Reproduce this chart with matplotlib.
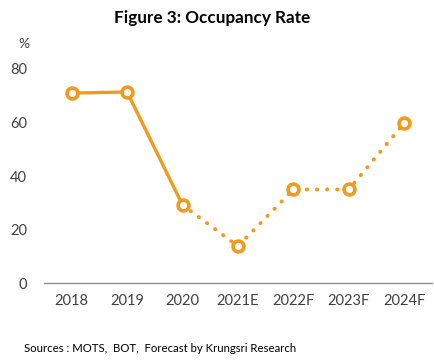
import matplotlib.pyplot as plt

plt.rcParams['font.family'] = ['Lato', 'DejaVu Sans']

years = ["2018", "2019", "2020", "2021E", "2022F", "2023F", "2024F"]
occupancy = [71.0, 71.4, 29.2, 13.8, 35.0, 35.0, 59.8]
last_actual = 2  # index of 2020, forecast line starts here

orange = "#F39A1B"
grey_text = "#404040"

fig = plt.figure(figsize=(4.35, 3.63), dpi=100)
ax = fig.add_axes([0.101, 0.22, 0.892, 0.59])

x = list(range(len(years)))

# actual (solid) and forecast (dotted)
ax.plot(x[:last_actual + 1], occupancy[:last_actual + 1], color=orange, lw=2.4,
        solid_capstyle="round", zorder=2)
ax.plot(x[last_actual:], occupancy[last_actual:], color=orange, lw=2.8,
        linestyle=(0, (0.1, 2.5)), dash_capstyle="round", zorder=2)
ax.plot(x, occupancy, linestyle="none", marker="o", markersize=7.8,
        markerfacecolor="white", markeredgecolor=orange, markeredgewidth=2.6, zorder=3)

ax.set_xlim(-0.5, len(years) - 0.5)
ax.set_ylim(0, 80)
ax.set_yticks([0, 20, 40, 60, 80])
ax.set_xticks(x)
ax.set_xticklabels(years)
ax.tick_params(length=0, labelsize=10.5, labelcolor=grey_text)
ax.tick_params(axis="y", pad=12)
ax.tick_params(axis="x", pad=8)

for s in ["top", "right", "left"]:
    ax.spines[s].set_visible(False)
ax.spines["bottom"].set_color("#8C8C8C")
ax.spines["bottom"].set_linewidth(1.0)

fig.text(0.488, 0.95, "Figure 3: Occupancy Rate", ha="center", va="center",
         fontsize=12.3, fontweight="bold", color="black")
fig.text(0.055, 0.88, "%", ha="center", va="center", fontsize=10, color=grey_text)
fig.text(0.055, 0.04, "Sources : MOTS,  BOT,  Forecast by Krungsri Research",
         ha="left", va="center", fontsize=8.2, color="black")

fig.savefig("out.png", dpi=100)
